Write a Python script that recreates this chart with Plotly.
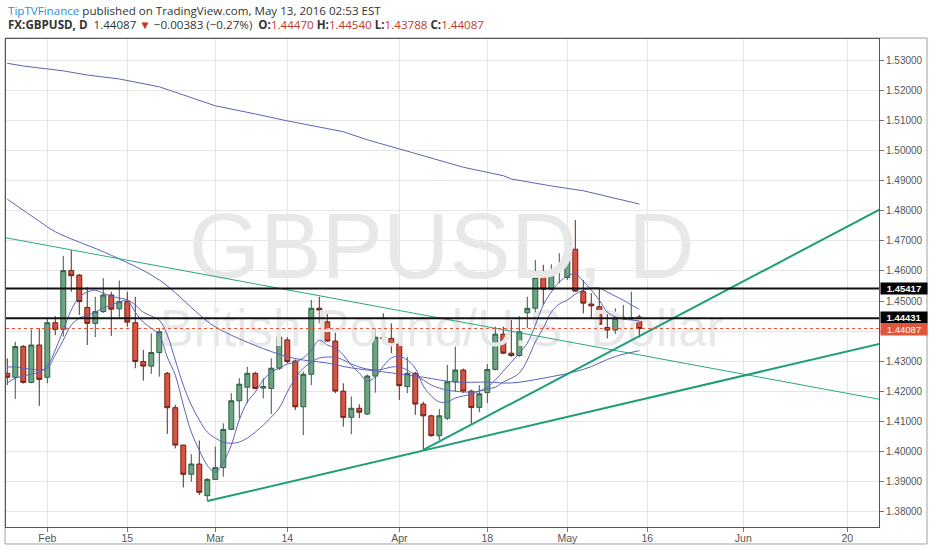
import plotly.graph_objects as go
import pandas as pd

# ---------------- data ----------------
dates = pd.bdate_range("2016-01-25", "2016-05-13")  # 80 daily FX bars

opens = [1.4260, 1.4247, 1.4349, 1.4230, 1.4354, 1.4247, 1.4428, 1.4406, 1.4601, 1.4586,
         1.4479, 1.4426, 1.4465, 1.4520, 1.4474, 1.4498, 1.4428, 1.4299, 1.4284, 1.4329,
         1.4260, 1.4146, 1.4022, 1.3925, 1.3959, 1.3854, 1.3908, 1.3947, 1.4074, 1.4169,
         1.4214, 1.4260, 1.4211, 1.4210, 1.4277, 1.4371, 1.4301, 1.4149, 1.4257, 1.4476,
         1.4431, 1.4367, 1.4201, 1.4114, 1.4144, 1.4125, 1.4251, 1.4380, 1.4376, 1.4357,
         1.4216, 1.4260, 1.4158, 1.4119, 1.4053, 1.4111, 1.4232, 1.4271, 1.4201, 1.4147,
         1.4196, 1.4273, 1.4390, 1.4327, 1.4319, 1.4461, 1.4476, 1.4578, 1.4539, 1.4600,
         1.4578, 1.4672, 1.4531, 1.4490, 1.4481, 1.4412, 1.4404, 1.4440, 1.4440, 1.44470]
highs = [1.4310, 1.4365, 1.4354, 1.4406, 1.4410, 1.4443, 1.4450, 1.4650, 1.4669, 1.4590,
         1.4546, 1.4514, 1.4576, 1.4531, 1.4568, 1.4531, 1.4514, 1.4338, 1.4393, 1.4410,
         1.4265, 1.4155, 1.4022, 1.3992, 1.4037, 1.3912, 1.4017, 1.4094, 1.4194, 1.4244,
         1.4282, 1.4265, 1.4244, 1.4310, 1.4437, 1.4380, 1.4306, 1.4266, 1.4504, 1.4514,
         1.4465, 1.4395, 1.4227, 1.4183, 1.4158, 1.4256, 1.4410, 1.4459, 1.4426, 1.4362,
         1.4315, 1.4265, 1.4166, 1.4123, 1.4141, 1.4288, 1.4349, 1.4276, 1.4206, 1.4221,
         1.4291, 1.4415, 1.4415, 1.4437, 1.4450, 1.4514, 1.4636, 1.4620, 1.4622, 1.4659,
         1.4697, 1.4769, 1.4570, 1.4526, 1.4542, 1.4465, 1.4476, 1.4487, 1.4531, 1.44540]
lows = [1.4221, 1.4175, 1.4226, 1.4227, 1.4152, 1.4227, 1.4387, 1.4382, 1.4531, 1.4454,
        1.4354, 1.4380, 1.4460, 1.4384, 1.4443, 1.4415, 1.4277, 1.4236, 1.4258, 1.4249,
        1.4059, 1.4011, 1.3881, 1.3900, 1.3856, 1.3836, 1.3906, 1.3917, 1.4072, 1.4111,
        1.4161, 1.4207, 1.4177, 1.4125, 1.4271, 1.4293, 1.4138, 1.4055, 1.4221, 1.4426,
        1.4365, 1.4194, 1.4083, 1.4058, 1.4111, 1.4122, 1.4196, 1.4360, 1.4327, 1.4172,
        1.4194, 1.4122, 1.4006, 1.4050, 1.4039, 1.4105, 1.4199, 1.4194, 1.4092, 1.4131,
        1.4161, 1.4270, 1.4324, 1.4315, 1.4315, 1.4410, 1.4459, 1.4487, 1.4537, 1.4559,
        1.4570, 1.4531, 1.4459, 1.4443, 1.4421, 1.4376, 1.4391, 1.4396, 1.4437, 1.43788]
closes = [1.4247, 1.4349, 1.4230, 1.4354, 1.4240, 1.4428, 1.4406, 1.4601, 1.4584, 1.4498,
          1.4426, 1.4465, 1.4520, 1.4473, 1.4498, 1.4430, 1.4299, 1.4284, 1.4329, 1.4398,
          1.4146, 1.4022, 1.3925, 1.3959, 1.3865, 1.3908, 1.3947, 1.4074, 1.4169, 1.4224,
          1.4260, 1.4210, 1.4216, 1.4277, 1.4380, 1.4299, 1.4149, 1.4257, 1.4476, 1.4470,
          1.4367, 1.4201, 1.4114, 1.4144, 1.4131, 1.4251, 1.4380, 1.4375, 1.4357, 1.4219,
          1.4260, 1.4158, 1.4119, 1.4053, 1.4119, 1.4232, 1.4271, 1.4201, 1.4147, 1.4192,
          1.4273, 1.4390, 1.4327, 1.4319, 1.4398, 1.4476, 1.4578, 1.4539, 1.4601, 1.4606,
          1.4672, 1.4533, 1.4493, 1.4484, 1.4423, 1.4404, 1.4443, 1.4446, 1.4445, 1.44087]

# short moving averages, one value per bar
ma_fast = [1.4228, 1.4244, 1.4251, 1.4258, 1.4264, 1.4284, 1.4337, 1.4404, 1.4470, 1.4513,
           1.4530, 1.4536, 1.4526, 1.4516, 1.4510, 1.4503, 1.4463, 1.4430, 1.4410, 1.4387,
           1.4314, 1.4254, 1.4155, 1.4065, 1.4005, 1.3955, 1.3932, 1.3965, 1.4022, 1.4105,
           1.4165, 1.4198, 1.4238, 1.4264, 1.4277, 1.4291, 1.4297, 1.4311, 1.4337, 1.4370,
           1.4354, 1.4344, 1.4321, 1.4287, 1.4261, 1.4234, 1.4248, 1.4284, 1.4311, 1.4317,
           1.4304, 1.4277, 1.4218, 1.4185, 1.4165, 1.4165, 1.4178, 1.4185, 1.4191, 1.4201,
           1.4214, 1.4238, 1.4267, 1.4297, 1.4327, 1.4360, 1.4420, 1.4487, 1.4530, 1.4563,
           1.4583, 1.4590, 1.4566, 1.4536, 1.4503, 1.4463, 1.4447, 1.4440, 1.4437, 1.4434]
ma_slow = [1.4281, 1.4281, 1.4277, 1.4274, 1.4271, 1.4277, 1.4321, 1.4370, 1.4420, 1.4443,
           1.4453, 1.4463, 1.4477, 1.4487, 1.4497, 1.4503, 1.4487, 1.4463, 1.4450, 1.4437,
           1.4387, 1.4304, 1.4221, 1.4155, 1.4105, 1.4065, 1.4045, 1.4032, 1.4028, 1.4032,
           1.4045, 1.4065, 1.4088, 1.4115, 1.4145, 1.4198, 1.4244, 1.4277, 1.4297, 1.4311,
           1.4314, 1.4314, 1.4304, 1.4291, 1.4281, 1.4274, 1.4271, 1.4274, 1.4281, 1.4281,
           1.4271, 1.4254, 1.4238, 1.4221, 1.4211, 1.4204, 1.4201, 1.4198, 1.4198, 1.4201,
           1.4208, 1.4214, 1.4231, 1.4244, 1.4261, 1.4304, 1.4364, 1.4410, 1.4463, 1.4490,
           1.4503, 1.4523, 1.4536, 1.4543, 1.4543, 1.4530, 1.4516, 1.4503, 1.4487, 1.4473]

# long moving averages, read at selected bars
ma50_bar = [0, 4, 6, 13, 19, 24, 26, 32, 36, 40, 43, 47, 52, 56, 60, 63, 67, 72, 76, 79]
ma50_val = [1.4838, 1.4765, 1.4730, 1.4652, 1.4570, 1.4455, 1.4414, 1.4342, 1.4309, 1.4294,
            1.4278, 1.4265, 1.4247, 1.4231, 1.4231, 1.4228, 1.4244, 1.4273, 1.4316, 1.4335]
ma200_bar = [0, 2, 7, 10, 14, 19, 22, 26, 31, 35, 42, 45, 49, 54, 57, 62, 63, 68, 72, 79]
ma200_val = [1.5289, 1.5280, 1.5264, 1.5250, 1.5237, 1.5211, 1.5184, 1.5148, 1.5121, 1.5098,
             1.5062, 1.5035, 1.5005, 1.4968, 1.4944, 1.4916, 1.4905, 1.4882, 1.4866, 1.4822]

# trend lines (bar index, price)
trend_a_bar = [25, 110]
trend_a_val = [1.3836, 1.4364]
trend_b_bar = [52, 110]
trend_b_val = [1.4006, 1.4817]
trend_c_bar = [-1, 110]
trend_c_val = [1.4714, 1.4169]

levels = [1.45417, 1.44431]
last_close = 1.44087

tick_dates = ["2016-02-01", "2016-02-15", "2016-03-01", "2016-03-14", "2016-04-01",
              "2016-04-18", "2016-05-02", "2016-05-16", "2016-06-01", "2016-06-20"]
tick_text = ["Feb", "15", "Mar", "14", "Apr", "18", "May", "16", "Jun", "20"]
price_ticks = [1.38, 1.39, 1.40, 1.41, 1.42, 1.43, 1.44, 1.45, 1.46, 1.47, 1.48, 1.49,
               1.50, 1.51, 1.52, 1.53]
hidden_price_ticks = [1.44]  # covered by the price boxes in the original

# ---------------- build ----------------
all_days = pd.bdate_range("2016-01-25", "2016-07-15")
day_pos = {d.strftime("%Y-%m-%d"): i for i, d in enumerate(all_days)}
tick_vals = [day_pos[d] for d in tick_dates]
bars = list(range(len(closes)))
price_text = ["" if p in hidden_price_ticks else "%.5f" % p for p in price_ticks]

MA_COL = "#5d63b8"
TREND_COL = "#1e9e78"
AXIS_FONT = "Liberation Sans, Arial, sans-serif"
HEAD_FONT = "Open Sans, Noto Sans, sans-serif"

fig = go.Figure()

# watermark (drawn first so it sits under everything)
fig.add_trace(go.Scatter(x=[54.3], y=[1.4654], mode="text", text=["GBPUSD, D"],
                         textfont=dict(size=92, color="#e8e8e8", family=AXIS_FONT),
                         hoverinfo="skip", showlegend=False))
fig.add_trace(go.Scatter(x=[54.3], y=[1.4392], mode="text", text=["British Pound/U.S. Dollar"],
                         textfont=dict(size=51, color="#e8e8e8", family=AXIS_FONT),
                         hoverinfo="skip", showlegend=False))

# moving averages
fig.add_trace(go.Scatter(x=ma200_bar, y=ma200_val, mode="lines",
                         line=dict(color=MA_COL, width=1), showlegend=False, hoverinfo="skip"))
fig.add_trace(go.Scatter(x=ma50_bar, y=ma50_val, mode="lines", line_shape="spline",
                         line=dict(color=MA_COL, width=1), showlegend=False, hoverinfo="skip"))
fig.add_trace(go.Scatter(x=bars, y=ma_slow, mode="lines", line_shape="spline",
                         line=dict(color=MA_COL, width=1), showlegend=False, hoverinfo="skip"))
fig.add_trace(go.Scatter(x=bars, y=ma_fast, mode="lines", line_shape="spline",
                         line=dict(color=MA_COL, width=1), showlegend=False, hoverinfo="skip"))

# trend lines
fig.add_trace(go.Scatter(x=trend_c_bar, y=trend_c_val, mode="lines",
                         line=dict(color="#2aa784", width=1), showlegend=False, hoverinfo="skip"))
fig.add_trace(go.Scatter(x=trend_a_bar, y=trend_a_val, mode="lines",
                         line=dict(color=TREND_COL, width=2), showlegend=False, hoverinfo="skip"))
fig.add_trace(go.Scatter(x=trend_b_bar, y=trend_b_val, mode="lines",
                         line=dict(color=TREND_COL, width=2), showlegend=False, hoverinfo="skip"))

# candles
fig.add_trace(go.Candlestick(
    x=bars, open=opens, high=highs, low=lows, close=closes,
    increasing=dict(fillcolor="#6ba583", line=dict(color="#2f5f40", width=1)),
    decreasing=dict(fillcolor="#d75442", line=dict(color="#6b2217", width=1)),
    whiskerwidth=0, showlegend=False, hoverinfo="skip"))

# horizontal levels
for lv in levels:
    fig.add_hline(y=lv, line=dict(color="#111111", width=2))
fig.add_hline(y=last_close, line=dict(color="#e0533b", width=1, dash="dot"))

# price boxes on the axis
box_shift = {levels[0]: 0, levels[1]: 1}
for lv in levels:
    fig.add_annotation(x=1, xref="paper", xanchor="left", xshift=1, y=lv, yref="y",
                       yshift=box_shift[lv],
                       text="<b>%.5f</b>" % lv, showarrow=False, bgcolor="#000000",
                       font=dict(color="white", size=9.5, family=AXIS_FONT),
                       width=46, height=11, align="center", borderpad=0)
fig.add_annotation(x=1, xref="paper", xanchor="left", xshift=1, y=last_close, yref="y",
                   yshift=-1,
                   text="%.5f" % last_close, showarrow=False, bgcolor="#e0553b",
                   font=dict(color="white", size=9.5, family=AXIS_FONT),
                   width=46, height=11, align="center", borderpad=0)

# header
RED = "#c0392b"
fig.add_annotation(x=0, xref="paper", y=1.0594, yref="paper", xanchor="left", yanchor="middle",
                   showarrow=False, align="left",
                   font=dict(size=11.6, color="#333333", family=HEAD_FONT),
                   text="<span style='color:#2a8fd8'>TipTVFinance</span> published on TradingView.com, May 13, 2016 02:53 EST")
fig.add_annotation(x=0, xref="paper", y=1.0287, yref="paper", xanchor="left", yanchor="middle",
                   showarrow=False, align="left",
                   font=dict(size=11.6, color="#333333", family=HEAD_FONT),
                   text=("<b>FX:GBPUSD, D</b>  1.44087 <span style='color:%s'>▼</span> −0.00383 (−0.27%%)  "
                         "<b>O:</b><span style='color:%s'>1.44470</span> "
                         "<b>H:</b><span style='color:%s'>1.44540</span> "
                         "<b>L:</b><span style='color:%s'>1.43788</span> "
                         "<b>C:</b><span style='color:%s'>1.44087</span>") % (RED, RED, RED, RED, RED))

# outer frame
fig.add_shape(type="rect", xref="paper", yref="paper", x0=-0.0011, x1=1.0550, y0=-0.0348, y1=1.002,
              line=dict(color="#a0a0a0", width=1), layer="below")

fig.update_layout(
    width=932, height=550,
    margin=dict(l=6, r=53, t=39, b=23, autoexpand=False),
    paper_bgcolor="white", plot_bgcolor="white",
    showlegend=False,
    boxgap=0.12,
    xaxis=dict(range=[-0.16, 108.96], tickvals=tick_vals, ticktext=tick_text,
               showgrid=True, gridcolor="#e6e6e6", gridwidth=1, zeroline=False,
               showline=True, linecolor="#555555", mirror=True,
               ticks="outside", ticklen=4, tickcolor="#777777", ticklabelstandoff=-3,
               tickfont=dict(size=10.5, color="#555555", family=AXIS_FONT),
               rangeslider=dict(visible=False), fixedrange=True),
    yaxis=dict(side="right", range=[1.375, 1.53697], tickvals=price_ticks, ticktext=price_text,
               showgrid=True, gridcolor="#e6e6e6", gridwidth=1, zeroline=False,
               showline=True, linecolor="#555555", mirror=True,
               ticks="outside", ticklen=4, tickcolor="#777777",
               tickfont=dict(size=10, color="#555555", family=AXIS_FONT), fixedrange=True),
)

fig.write_html("out.html", config={"displayModeBar": False},
               post_script="document.body.style.margin='0';document.body.style.overflow='hidden';")
